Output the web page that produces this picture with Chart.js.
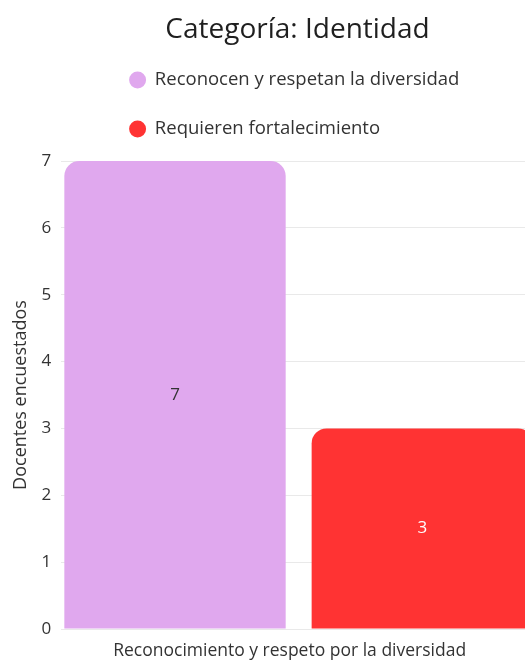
<!DOCTYPE html>
<html>
<head>
<meta charset="utf-8">
<script src="https://cdn.jsdelivr.net/npm/chart.js@4"></script>
<style>
  html, body { margin: 0; padding: 0; background: #fff; overflow: hidden; }
  #wrap { width: 595px; height: 661px; position: relative; }
</style>
</head>
<body>
<div id="wrap"><canvas id="c"></canvas></div>
<script>
const categories = ["Reconocimiento y respeto por la diversidad"];
const seriesNames = ["Reconocen y respetan la diversidad", "Requieren fortalecimiento"];
const reconocen = [7];
const requieren = [3];
const yTicks = [0, 1, 2, 3, 4, 5, 6, 7];
const colors = ["#E0A8EE", "#FF3333"];
const labelColors = ["#333333", "#ffffff"];

const FONT = "'Open Sans', 'Noto Sans', sans-serif";

const valueLabels = {
  id: 'valueLabels',
  afterDatasetsDraw(chart) {
    const ctx = chart.ctx;
    ctx.save();
    ctx.font = "17px " + FONT;
    ctx.textAlign = 'center';
    ctx.textBaseline = 'middle';
    chart.data.datasets.forEach((ds, di) => {
      const meta = chart.getDatasetMeta(di);
      meta.data.forEach((el, i) => {
        ctx.fillStyle = labelColors[di];
        ctx.fillText(String(ds.data[i]), el.x, (el.y + el.base) / 2);
      });
    });
    ctx.restore();
  }
};

const legendAlign = {
  id: 'legendAlign',
  beforeDraw(chart) {
    const lg = chart.legend;
    if (lg && lg.lineWidths && lg.lineWidths.length) {
      const m = Math.max(...lg.lineWidths) + 6;
      lg.lineWidths = lg.lineWidths.map(() => m);
    }
  }
};

new Chart(document.getElementById('c'), {
  type: 'bar',
  data: {
    labels: categories,
    datasets: [
      { label: seriesNames[0], data: reconocen, backgroundColor: colors[0] },
      { label: seriesNames[1], data: requieren, backgroundColor: colors[1] }
    ]
  },
  options: {
    responsive: true,
    maintainAspectRatio: false,
    animation: false,
    categoryPercentage: 1.042,
    barPercentage: 0.895,
    borderRadius: 15,
    borderSkipped: 'start',
    layout: { padding: { top: 0, left: 0, right: 0, bottom: -13 } },
    plugins: {
      title: {
        display: true,
        text: 'Categoría: Identidad',
        color: '#1f1f1f',
        font: { family: FONT, size: 28, weight: 'normal', lineHeight: 1.2 },
        padding: { top: 13, bottom: -6.35 }
      },
      legend: {
        display: true,
        position: 'top',
        labels: {
          usePointStyle: true,
          pointStyle: 'circle',
          boxWidth: 16,
          boxHeight: 12,
          padding: 30.5,
          color: '#333333',
          font: { family: FONT, size: 18.5 }
        }
      },
      tooltip: { enabled: false }
    },
    scales: {
      x: {
        grid: { display: false, drawTicks: false },
        border: { display: false },
        ticks: {
          color: '#333333',
          padding: 12,
          labelOffset: -9,
          font: { family: FONT, size: 17.5 }
        }
      },
      xTop: {
        position: 'top',
        type: 'category',
        labels: categories,
        grid: { display: false, drawTicks: false },
        border: { display: false },
        ticks: { display: false },
        title: { display: true, text: '', font: { size: 1, lineHeight: 1 }, padding: { top: 11.75, bottom: 0 } }
      },
      y: {
        min: 0,
        max: 7,
        afterBuildTicks(scale) { scale.ticks = yTicks.map(v => ({ value: v })); },
        grid: { color: '#e9e9e9', drawTicks: false },
        border: { display: false },
        ticks: {
          color: '#333333',
          padding: 10,
          font: { family: FONT, size: 17 }
        },
        title: {
          display: true,
          text: 'Docentes encuestados',
          color: '#333333',
          font: { family: FONT, size: 18 },
          padding: { top: 10, bottom: 0 }
        }
      },
      yRight: {
        position: 'right',
        type: 'linear',
        min: 0,
        max: 7,
        grid: { display: false, drawTicks: false },
        border: { display: false },
        ticks: { display: false },
        title: { display: true, text: '', font: { size: 1, lineHeight: 1 }, padding: { top: 58, bottom: 0 } }
      }
    }
  },
  plugins: [valueLabels, legendAlign]
});
</script>
</body>
</html>
